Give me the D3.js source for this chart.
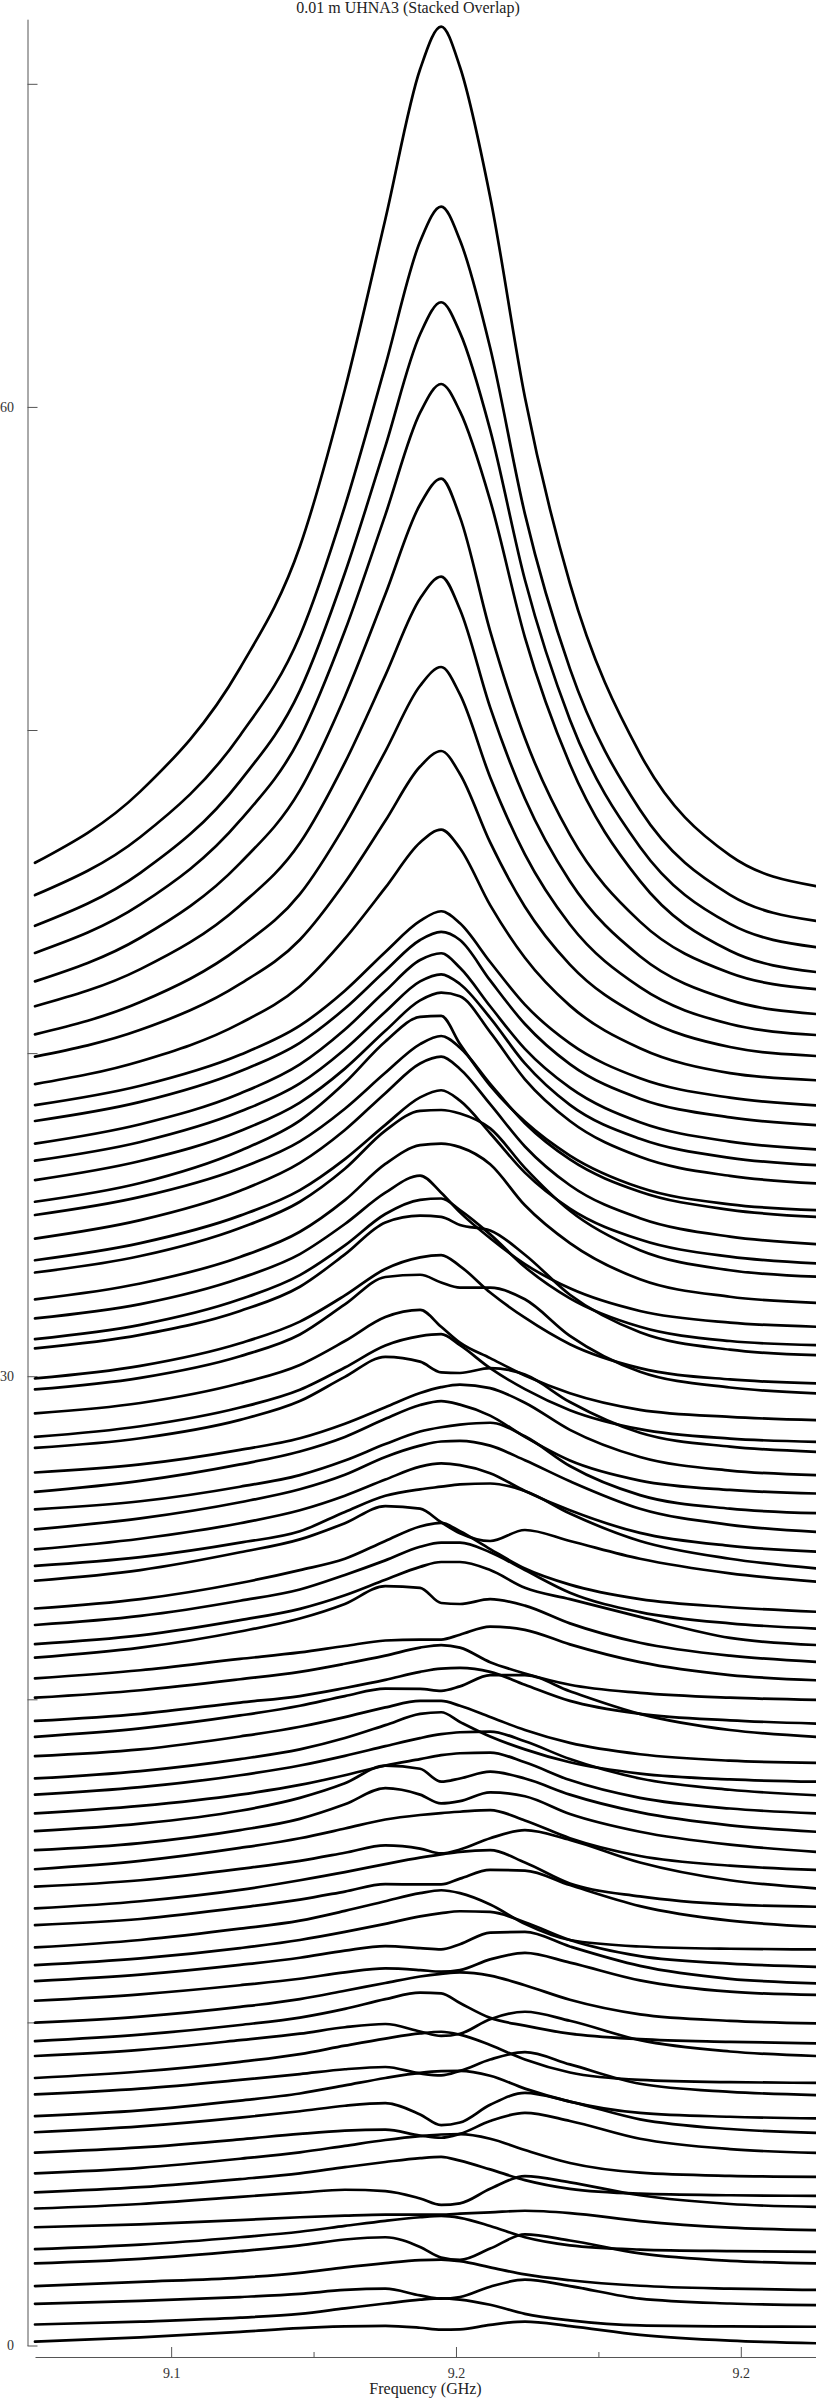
<!DOCTYPE html>
<html><head><meta charset="utf-8">
<script src="https://cdn.jsdelivr.net/npm/d3@7"></script>
<style>
body{margin:0;background:#fff}
svg{display:block}
text{font-family:"Liberation Serif","Times New Roman",serif}
</style>
</head><body>
<svg id="chart" width="816" height="2400"></svg>
<script>
const chartTitle = "0.01 m UHNA3 (Stacked Overlap)";
const xAxisTitle = "Frequency (GHz)";
const freqGHz = [9.1261, 9.1446, 9.1621, 9.1726, 9.1805, 9.1876, 9.1937, 9.1974, 9.2007, 9.2060, 9.2121, 9.2200, 9.2323, 9.2481, 9.2632];
const xMajorTicks = [9.15, 9.2, 9.25];
const xMajorLabels = ["9.1", "9.2", "9.2"];
const xMinorTicks = [9.175, 9.225];
const yTicks = [0, 10, 20, 30, 40, 50, 60, 70];
const yTickLabels = ["0", "", "", "30", "", "", "60", ""];
const yMax = 72;

const traces = [
[45.89,48.10,51.92,55.68,60.54,65.81,70.45,71.77,70.52,66.50,60.30,54.54,49.27,46.12,45.17],
[44.89,46.69,49.83,52.92,56.93,61.28,65.12,66.20,65.16,61.83,56.69,51.90,47.53,44.90,44.09],
[43.94,45.58,48.42,51.22,54.86,58.78,62.25,63.24,62.30,59.29,54.65,50.32,46.38,44.00,43.28],
[43.10,44.60,47.20,49.75,53.07,56.66,59.82,60.71,59.86,57.11,52.87,48.94,45.33,43.17,42.51],
[42.22,43.57,45.88,48.13,51.04,54.20,56.98,57.78,56.59,53.06,49.75,46.76,44.07,42.48,41.98],
[41.45,42.60,44.57,46.50,48.99,51.69,54.07,54.75,53.73,50.70,47.88,45.32,43.00,41.64,41.21],
[40.58,41.58,43.28,44.92,47.05,49.34,51.37,51.95,51.10,48.54,46.15,43.98,42.04,40.90,40.56],
[39.89,40.72,42.14,43.51,45.28,47.19,48.87,49.35,48.64,46.52,44.53,42.74,41.14,40.19,39.91],
[39.04,39.75,40.92,42.07,43.54,45.12,46.52,46.92,46.34,44.58,42.95,41.47,40.15,39.38,39.16],
[38.39,38.99,39.95,40.85,41.93,43.13,44.09,44.39,44.02,42.82,41.50,40.30,39.22,38.62,38.38],
[37.90,38.49,39.44,40.32,41.38,42.55,43.50,43.75,43.50,42.25,40.90,39.66,38.59,38.01,37.77],
[37.20,37.80,38.75,39.65,40.73,41.92,42.88,43.09,42.64,41.45,40.13,38.93,37.86,37.26,37.02],
[36.67,37.25,38.19,39.06,40.12,41.28,42.22,42.44,42.14,41.09,39.68,38.40,37.35,36.76,36.53],
[36.07,36.66,37.59,38.47,39.52,40.69,41.63,41.87,41.76,40.65,39.19,37.90,36.79,36.20,35.97],
[35.40,35.98,36.98,37.91,39.08,40.36,41.12,41.15,40.28,38.99,37.88,36.83,35.84,35.32,35.14],
[34.99,35.55,36.44,37.27,38.28,39.39,40.28,40.53,40.17,39.05,37.83,36.71,35.71,35.15,34.93],
[34.26,34.83,35.74,36.60,37.62,38.76,39.68,39.89,39.51,38.42,37.11,35.91,34.89,34.32,34.09],
[33.59,34.12,34.97,35.76,36.72,37.78,38.63,38.85,38.53,37.52,36.30,35.19,34.23,33.70,33.49],
[33.21,33.72,34.59,35.40,36.42,37.60,38.21,38.24,38.13,37.67,36.45,35.12,33.90,33.28,33.08],
[32.38,32.87,33.69,34.47,35.45,36.57,37.15,37.20,37.09,36.56,35.29,34.12,33.00,32.46,32.27],
[31.79,32.23,33.03,33.78,34.71,35.68,36.21,35.68,35.07,34.27,33.47,32.72,32.02,31.66,31.53],
[31.15,31.59,32.38,33.13,34.05,35.02,35.46,35.50,35.14,34.39,33.38,32.41,31.53,31.09,30.96],
[30.86,31.28,32.02,32.77,33.77,34.76,34.97,34.93,34.68,34.51,33.76,32.52,31.36,30.82,30.65],
[29.93,30.32,31.02,31.69,32.50,33.32,33.68,33.75,33.41,32.59,31.81,30.99,30.25,29.90,29.78],
[29.59,29.95,30.62,31.29,32.22,33.07,33.14,32.90,32.74,32.74,32.38,31.25,30.14,29.65,29.47],
[28.85,29.17,29.78,30.35,31.09,31.83,32.05,31.53,31.04,30.56,30.02,29.47,28.96,28.74,28.64],
[28.12,28.45,29.03,29.58,30.27,30.95,31.24,31.30,30.96,30.25,29.60,28.95,28.36,28.07,27.97],
[27.78,28.08,28.65,29.23,29.98,30.60,30.45,30.12,30.10,30.25,30.05,29.20,28.25,27.82,27.66],
[27.02,27.27,27.72,28.08,28.53,29.04,29.48,29.66,29.74,29.63,29.18,28.34,27.50,27.08,26.94],
[26.42,26.76,27.27,27.67,28.12,28.68,29.11,29.23,29.12,28.78,28.12,27.39,26.77,26.48,26.37],
[25.88,26.13,26.58,26.94,27.39,27.90,28.29,28.42,28.50,28.56,28.14,27.22,26.32,25.90,25.76],
[25.26,25.60,26.10,26.50,26.95,27.50,27.85,27.98,28.00,27.85,27.40,26.75,25.90,25.40,25.18],
[24.64,24.97,25.45,25.85,26.30,26.80,27.20,27.30,27.25,27.00,26.45,25.85,25.15,24.75,24.57],
[24.13,24.40,24.85,25.20,25.80,26.30,26.50,26.58,26.65,26.68,26.45,25.75,24.90,24.35,24.05],
[23.67,24.00,24.55,24.95,25.45,25.98,25.90,25.48,25.14,24.90,25.24,24.90,24.35,23.90,23.64],
[22.81,23.10,23.60,24.00,24.35,24.90,25.35,25.46,25.20,24.65,24.05,23.55,23.10,22.85,22.71],
[22.30,22.58,23.05,23.40,23.85,24.30,24.72,24.85,24.85,24.55,24.00,23.30,22.70,22.35,22.19],
[21.71,21.98,22.45,22.80,23.22,23.70,24.10,24.25,24.25,24.00,23.45,23.10,22.55,21.90,21.68],
[21.29,21.60,22.10,22.50,22.95,23.50,23.45,22.98,22.95,23.10,22.90,22.35,21.75,21.35,21.16],
[20.65,20.90,21.25,21.45,21.65,21.82,21.85,21.85,22.00,22.25,22.15,21.70,21.15,20.75,20.59],
[20.05,20.28,20.62,20.85,21.10,21.35,21.60,21.68,21.60,21.15,20.80,20.45,20.20,20.05,19.98],
[19.33,19.55,19.90,20.10,20.35,20.60,20.85,20.95,20.97,20.85,20.45,19.95,19.55,19.35,19.25],
[18.84,19.10,19.50,19.80,20.10,20.33,20.32,20.26,20.40,20.75,20.75,20.25,19.55,19.05,18.84],
[18.24,18.45,18.85,19.15,19.45,19.75,19.95,19.95,19.80,19.45,19.05,18.65,18.30,18.10,18.03],
[17.55,17.78,18.15,18.45,18.80,19.20,19.55,19.60,19.30,18.85,18.45,18.05,17.70,17.52,17.45],
[17.05,17.28,17.65,17.95,18.25,18.55,18.80,18.92,18.98,19.00,18.70,18.15,17.55,17.20,17.03],
[16.47,16.70,17.05,17.35,17.65,17.95,18.15,18.27,18.33,18.35,18.05,17.50,16.95,16.62,16.47],
[15.92,16.15,16.55,16.95,17.40,17.95,17.85,17.45,17.55,17.76,17.55,17.05,16.50,16.10,15.90],
[15.33,15.55,15.95,16.30,16.75,17.25,17.05,16.78,16.85,17.12,17.00,16.45,15.90,15.50,15.28],
[14.74,15.00,15.40,15.70,16.00,16.28,16.42,16.48,16.52,16.57,16.25,15.70,15.15,14.85,14.72],
[14.20,14.40,14.75,15.00,15.25,15.48,15.38,15.23,15.35,15.70,15.95,15.65,14.95,14.40,14.15],
[13.53,13.75,14.10,14.40,14.65,14.90,15.10,15.20,15.28,15.33,14.95,14.30,13.90,13.65,13.58],
[13.01,13.20,13.55,13.80,14.05,14.28,14.27,14.27,14.45,14.72,14.70,14.25,13.60,13.15,12.96],
[12.32,12.55,12.90,13.15,13.45,13.75,14.00,14.09,14.00,13.65,13.05,12.55,12.35,12.28,12.26],
[11.77,11.98,12.30,12.55,12.80,13.05,13.28,13.38,13.44,13.42,13.10,12.55,12.05,11.82,11.72],
[11.28,11.48,11.78,12.00,12.22,12.36,12.30,12.26,12.42,12.78,12.80,12.35,11.75,11.35,11.21],
[10.67,10.87,11.15,11.35,11.55,11.67,11.62,11.57,11.62,11.95,12.15,11.85,11.30,10.95,10.85],
[9.99,10.18,10.48,10.72,10.98,11.22,11.42,11.50,11.55,11.45,11.15,10.70,10.25,10.05,9.97],
[9.42,9.62,9.92,10.15,10.42,10.72,10.92,10.90,10.60,10.14,9.90,9.65,9.48,9.40,9.35],
[8.96,9.15,9.45,9.65,9.85,9.95,9.72,9.58,9.65,10.10,10.33,10.05,9.45,9.10,8.96],
[8.28,8.48,8.78,9.02,9.28,9.50,9.66,9.71,9.62,9.30,8.85,8.45,8.22,8.15,8.13],
[7.77,7.95,8.22,8.40,8.55,8.62,8.42,8.36,8.50,8.85,9.08,8.70,8.10,7.85,7.75],
[7.10,7.28,7.58,7.80,8.05,8.28,8.44,8.49,8.50,8.35,7.95,7.55,7.20,7.08,7.03],
[6.60,6.78,7.05,7.25,7.42,7.50,7.15,6.82,6.90,7.45,7.82,7.55,7.00,6.70,6.58],
[5.97,6.13,6.38,6.55,6.65,6.68,6.50,6.43,6.55,6.95,7.20,6.95,6.40,6.08,5.96],
[5.33,5.50,5.78,5.98,6.18,6.36,6.48,6.53,6.54,6.40,6.05,5.65,5.35,5.25,5.22],
[4.74,4.90,5.15,5.33,5.52,5.68,5.80,5.84,5.72,5.45,5.12,4.85,4.70,4.65,4.63],
[4.24,4.38,4.60,4.73,4.82,4.78,4.55,4.35,4.40,4.85,5.24,5.05,4.65,4.38,4.29],
[3.66,3.75,3.88,3.97,4.02,4.05,4.05,4.05,4.08,4.12,4.17,4.10,3.85,3.65,3.57],
[2.98,3.12,3.35,3.52,3.70,3.86,3.97,4.01,3.95,3.70,3.35,3.10,2.97,2.92,2.90],
[2.54,2.68,2.92,3.10,3.28,3.35,3.05,2.72,2.65,3.00,3.44,3.25,2.85,2.62,2.54],
[1.84,1.97,2.10,2.25,2.42,2.55,2.64,2.66,2.61,2.42,2.20,2.02,1.85,1.76,1.72],
[1.29,1.38,1.50,1.60,1.72,1.76,1.55,1.45,1.50,1.82,2.04,1.84,1.45,1.30,1.25],
[0.65,0.74,0.86,0.98,1.15,1.30,1.42,1.46,1.42,1.26,0.98,0.78,0.62,0.59,0.58],
[0.12,0.25,0.42,0.54,0.59,0.61,0.55,0.49,0.50,0.64,0.74,0.60,0.33,0.15,0.07]
];

const svg = d3.select("#chart");
const x = d3.scaleLinear().domain(d3.extent(freqGHz)).range([35, 816]);
const y = d3.scaleLinear().domain([0, yMax]).range([2345.5, 19.2]);

svg.append("text").attr("x", 408).attr("y", 13).attr("text-anchor", "middle")
  .attr("font-size", 16).attr("fill", "#222").text(chartTitle);

const yAxis = d3.axisLeft(y).tickValues(yTicks).tickSizeInner(-10).tickSizeOuter(0)
  .tickPadding(13.5).tickFormat((d, i) => yTickLabels[i]);
const gy = svg.append("g").attr("transform", "translate(27.5,0)").call(yAxis);
gy.attr("font-family", null);
gy.selectAll("path,line").attr("stroke", "#555");
gy.selectAll("text").attr("font-size", 14).attr("fill", "#333");

const xAxis = d3.axisBottom(x).tickValues(xMajorTicks).tickSizeInner(-10).tickSizeOuter(0)
  .tickPadding(11).tickFormat((d, i) => xMajorLabels[i]);
const gx = svg.append("g").attr("transform", "translate(0,2357)").call(xAxis);
gx.attr("font-family", null);
gx.selectAll("path,line").attr("stroke", "#555");
gx.selectAll("text").attr("font-size", 14).attr("fill", "#333");

const xMinor = d3.axisBottom(x).tickValues(xMinorTicks).tickSizeInner(-5).tickSizeOuter(0)
  .tickFormat(() => "");
const gxm = svg.append("g").attr("transform", "translate(0,2357)").call(xMinor);
gxm.select("path").remove();
gxm.selectAll("line").attr("stroke", "#555");

svg.append("text").attr("x", 425.5).attr("y", 2394).attr("text-anchor", "middle")
  .attr("font-size", 16).attr("fill", "#222").text(xAxisTitle);

const line = d3.line().x(d => x(d[0])).y(d => y(d[1])).curve(d3.curveMonotoneX);
svg.append("g").selectAll("path").data(traces).join("path")
  .attr("d", vals => line(freqGHz.map((f, i) => [f, vals[i]])))
  .attr("fill", "none").attr("stroke", "#000").attr("stroke-width", 2.7)
  .attr("stroke-linejoin", "round").attr("stroke-linecap", "round");
</script>
</body></html>
